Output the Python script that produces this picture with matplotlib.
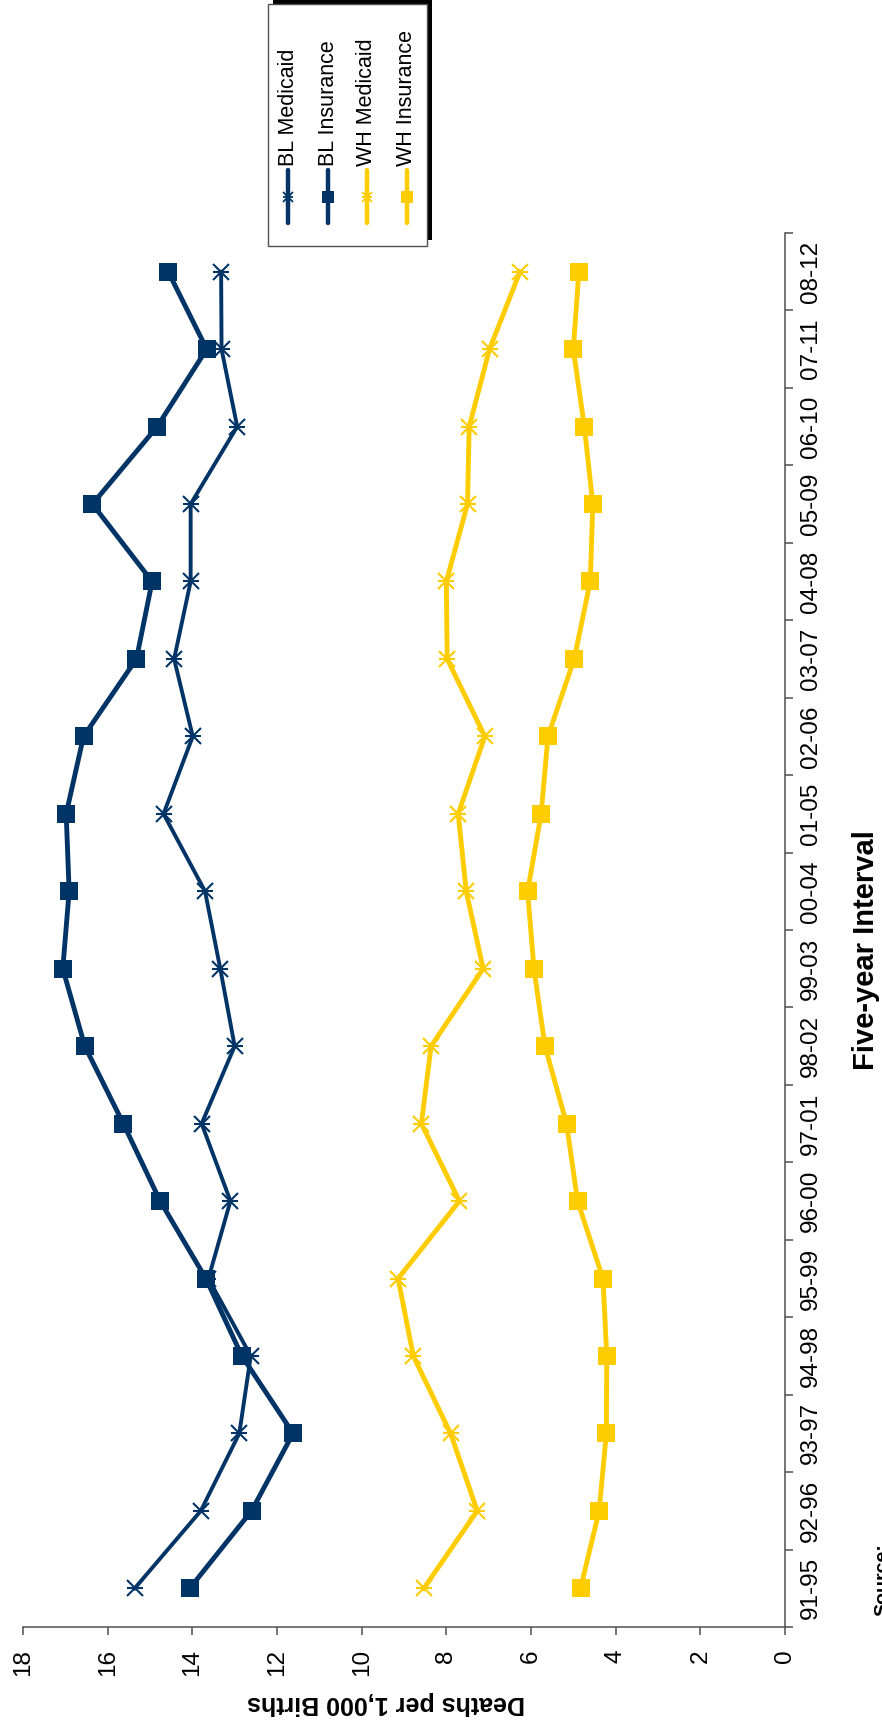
import numpy as np
import matplotlib
matplotlib.use('Agg')
import matplotlib.pyplot as plt
from matplotlib.patches import Rectangle
from matplotlib.lines import Line2D

plt.rcParams['font.family'] = ['Liberation Sans', 'DejaVu Sans']

intervals = ['91-95', '92-96', '93-97', '94-98', '95-99', '96-00', '97-01', '98-02', '99-03',
             '00-04', '01-05', '02-06', '03-07', '04-08', '05-09', '06-10', '07-11', '08-12']
bl_medicaid = [15.36, 13.80, 12.89, 12.62, 13.62, 13.10, 13.78, 13.00, 13.34,
               13.70, 14.68, 13.99, 14.43, 14.04, 14.04, 12.94, 13.31, 13.32]
bl_insurance = [14.06, 12.60, 11.62, 12.83, 13.68, 14.76, 15.63, 16.54, 17.06,
                16.91, 16.98, 16.57, 15.32, 14.95, 16.36, 14.83, 13.66, 14.57]
wh_medicaid = [8.53, 7.27, 7.90, 8.78, 9.14, 7.69, 8.59, 8.36, 7.13,
               7.53, 7.72, 7.09, 7.98, 8.00, 7.50, 7.46, 6.98, 6.26]
wh_insurance = [4.83, 4.39, 4.22, 4.21, 4.30, 4.90, 5.16, 5.67, 5.93,
                6.08, 5.76, 5.60, 4.98, 4.60, 4.54, 4.74, 5.00, 4.87]
series_names = ['BL Medicaid', 'BL Insurance', 'WH Medicaid', 'WH Insurance']
death_ticks = [0, 2, 4, 6, 8, 10, 12, 14, 16, 18]

NAVY = '#003366'
GOLD = '#FFCC00'
AXC = '#505050'

W, H = 882, 1726
fig = plt.figure(figsize=(W / 100, H / 100), dpi=100)
ax = fig.add_axes([23 / W, (H - 1627) / H, 762 / W, 1394 / H])

pos = np.arange(len(intervals))

def plot_medicaid(vals, color, lw):
    ax.plot(vals, pos, color=color, lw=lw, marker='x', ms=11.5, mew=1.5,
            solid_joinstyle='round', zorder=3)
    ax.plot(vals, pos, color=color, ls='none', marker='_', ms=11.5, mew=1.5, zorder=3)

def plot_insurance(vals, color, lw):
    ax.plot(vals, pos, color=color, lw=lw, marker='s', ms=12.5, mew=0,
            solid_joinstyle='round', zorder=3)

plot_medicaid(bl_medicaid, NAVY, 2.8)
plot_insurance(bl_insurance, NAVY, 3.5)
plot_medicaid(wh_medicaid, GOLD, 3.5)
plot_insurance(wh_insurance, GOLD, 3.5)

ax.set_xlim(18, 0)
ax.set_ylim(-0.5, len(intervals) - 0.5)

for s in ['left', 'top']:
    ax.spines[s].set_visible(False)
for s in ['right', 'bottom']:
    ax.spines[s].set_color(AXC)
    ax.spines[s].set_linewidth(1.1)

ax.set_xticks(death_ticks)
ax.set_xticklabels([str(t) for t in death_ticks], rotation=90, fontsize=17.5)
ax.tick_params(axis='x', direction='out', length=6, width=1.1, color=AXC, pad=10)

ax.yaxis.tick_right()
ax.set_yticks(pos)
ax.set_yticklabels(intervals, rotation=90, fontsize=17.5, va='center')
ax.set_yticks(np.arange(-0.5, len(intervals), 1.0), minor=True)
ax.tick_params(axis='y', which='major', length=0, pad=11)
ax.tick_params(axis='y', which='minor', direction='out', length=5.5, width=1.1, color=AXC)

# overlay in pixel coordinates for titles and legend
lax = fig.add_axes([0, 0, 1, 1], zorder=5)
lax.set_xlim(0, W)
lax.set_ylim(H, 0)
lax.axis('off')

lax.text(386, 1703, 'Deaths per 1,000 Births', rotation=180, fontsize=18,
         fontweight='bold', ha='center', va='center')
lax.text(866, 950, 'Five-year Interval', rotation=90, fontsize=21,
         fontweight='bold', ha='center', va='center')
lax.text(874, 1616, 'Source:', rotation=90, fontsize=14, fontweight='bold',
         ha='left', va='bottom', clip_on=False)

# legend box with shadow
lax.add_patch(Rectangle((273, -2), 159, 242, facecolor='black', edgecolor='none'))
lax.add_patch(Rectangle((268, 4), 159, 242, facecolor='white', edgecolor=AXC, lw=1))
leg_x = [288, 328, 367, 407]
leg_colors = [NAVY, NAVY, GOLD, GOLD]
for i, (name, c) in enumerate(zip(series_names, leg_colors)):
    x = leg_x[i]
    lax.add_line(Line2D([x, x], [170, 223], color=c, lw=3.2, solid_capstyle='round'))
    if i % 2 == 0:
        lax.add_line(Line2D([x], [197], color=c, marker='x', ms=7, mew=1.3))
        lax.add_line(Line2D([x], [197], color=c, marker='_', ms=7, mew=1.3))
    else:
        lax.add_line(Line2D([x], [197], color=c, marker='s', ms=8, mew=0))
    lax.text(x, 166, name, rotation=90, fontsize=15.5, ha='center', va='bottom')

fig.savefig('out.png', dpi=100, facecolor='white')
